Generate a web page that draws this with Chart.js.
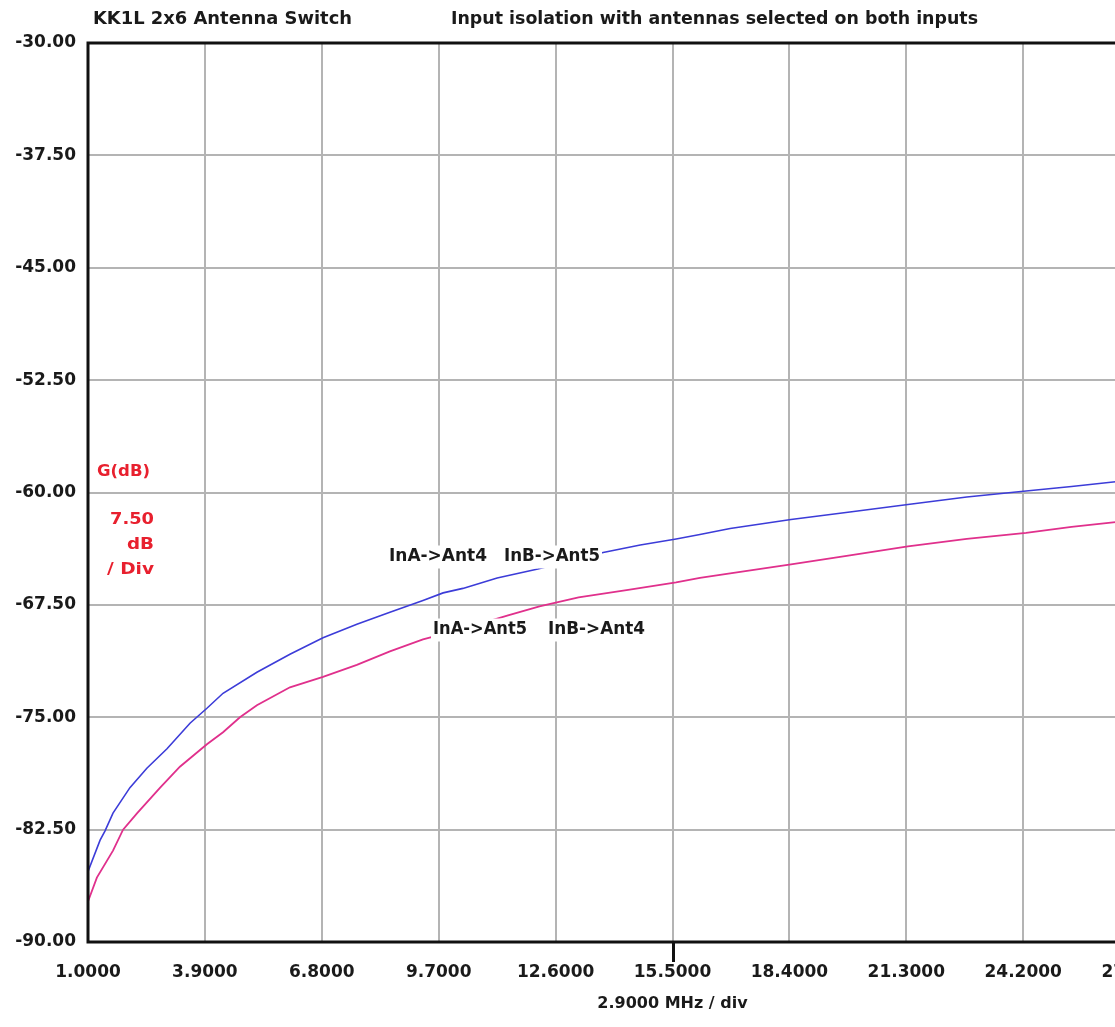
<!DOCTYPE html>
<html>
<head>
<meta charset="utf-8">
<script src="https://cdn.jsdelivr.net/npm/chart.js@4/dist/chart.umd.min.js"></script>
<style>
  html,body{margin:0;padding:0;background:#fff;overflow:hidden;}
  #wrap{width:1320px;height:1027px;}
</style>
</head>
<body>
<div id="wrap"><canvas id="iso" width="1320" height="1027"></canvas></div>
<script>
/* KK1L 2x6 switch - input isolation sweep */
var xTicks = [1.0, 3.9, 6.8, 9.7, 12.6, 15.5, 18.4, 21.3, 24.2, 27.1, 30.0];
var yTicks = [-90, -82.5, -75, -67.5, -60, -52.5, -45, -37.5, -30];

// InA->Ant4 / InB->Ant5 (blue)
var freqA4 = [1.0, 1.3, 1.42, 1.62, 2.04, 2.46, 2.96, 3.53, 3.95, 4.35, 5.19, 6.01, 6.83, 7.67, 8.49, 9.31, 9.81,
              10.3, 11.15, 12.16, 12.9, 13.78, 14.7, 15.59, 16.18, 16.93, 18.44, 19.9, 21.34, 22.8, 24.27, 25.4, 26.43, 27.6];
var dbA4   = [-85.3, -83.2, -82.6, -81.4, -79.7, -78.4, -77.1, -75.4, -74.4, -73.4, -72.0, -70.8, -69.7, -68.8, -68.0, -67.2, -66.7,
              -66.4, -65.7, -65.1, -64.6, -64.0, -63.5, -63.1, -62.8, -62.4, -61.8, -61.3, -60.8, -60.3, -59.9, -59.6, -59.3, -59.0];

// InA->Ant5 / InB->Ant4 (magenta)
var freqA5 = [1.0, 1.22, 1.62, 1.87, 2.22, 2.79, 3.28, 3.95, 4.35, 4.77, 5.19, 6.01, 6.83, 7.67, 8.49, 9.31,
              10.3, 11.42, 12.2, 13.17, 14.4, 15.59, 16.18, 16.93, 18.44, 19.9, 21.34, 22.8, 24.27, 25.4, 26.43, 27.6];
var dbA5   = [-87.3, -85.7, -83.9, -82.5, -81.4, -79.7, -78.3, -76.8, -76.0, -75.0, -74.2, -73.0, -72.3, -71.5, -70.6, -69.8,
              -69.1, -68.2, -67.6, -67.0, -66.5, -66.0, -65.7, -65.4, -64.8, -64.2, -63.6, -63.1, -62.7, -62.3, -62.0, -61.7];

(function () {
  'use strict';

  var FONT = "'DejaVu Sans', 'Liberation Sans', sans-serif";
  var INK = '#1a1a1a', RED = '#e8202e';

  function pts(xs, ys){ return xs.map(function(x,i){ return {x:x, y:ys[i]}; }); }

  // draw text squeezed/stretched to a given width
  function fitText(ctx, t, x, y, w, size, col, box){
    ctx.save();
    ctx.font = 'bold ' + size + 'px ' + FONT;
    ctx.textBaseline = 'middle'; ctx.textAlign = 'left';
    var m = ctx.measureText(t).width, sx = w / m;
    if (box) { ctx.fillStyle = '#fff'; ctx.fillRect(x - 2, y - size/2 - 3, w + 4, size + 6); }
    ctx.translate(x, y); ctx.scale(sx, 1);
    ctx.fillStyle = col; ctx.fillText(t, 0, 0);
    ctx.restore();
  }

  var decor = {
    id: 'decor',
    afterDatasetsDraw: function (c) {
      var ctx = c.ctx, a = c.chartArea, xs = c.scales.x;
      // curve labels, white boxes hide the trace behind them
      fitText(ctx, 'InA->Ant4', 389, 557, 98, 17, INK, true);
      fitText(ctx, 'InB->Ant5', 504, 557, 96, 17, INK, true);
      fitText(ctx, 'InA->Ant5', 433, 630, 94, 17, INK, true);
      fitText(ctx, 'InB->Ant4', 548, 630, 97, 17, INK, true);
      // frame
      ctx.save();
      ctx.strokeStyle = '#111'; ctx.lineWidth = 3;
      ctx.strokeRect(a.left, a.top, a.right - a.left, a.bottom - a.top);
      var cx = Math.round(xs.getPixelForValue(15.5)) + 0.5;
      ctx.beginPath(); ctx.moveTo(cx, a.bottom); ctx.lineTo(cx, a.bottom + 20); ctx.stroke();
      ctx.restore();
    },
    afterDraw: function (c) {
      var ctx = c.ctx;
      fitText(ctx, 'KK1L 2x6 Antenna Switch', 93, 19, 259, 18, INK);
      fitText(ctx, 'Input isolation with antennas selected on both inputs', 451, 19, 527, 18, INK);
      fitText(ctx, 'G(dB)', 97, 472, 53, 16, RED);
      fitText(ctx, '7.50', 110, 520, 44, 16, RED);
      fitText(ctx, 'dB', 127, 545, 27, 16, RED);
      fitText(ctx, '/ Div', 107, 570, 47, 16, RED);
    }
  };

  var tickFont = { family: FONT, weight: 'bold', size: 17 };

  new Chart(document.getElementById('iso'), {
    type: 'line',
    data: {
      datasets: [
        { label: 'InA->Ant4 InB->Ant5', data: pts(freqA4, dbA4), borderColor: '#3c3cd8', borderWidth: 1.6,
          pointRadius: 0, tension: 0, fill: false },
        { label: 'InA->Ant5 InB->Ant4', data: pts(freqA5, dbA5), borderColor: '#e0308c', borderWidth: 1.8,
          pointRadius: 0, tension: 0, fill: false }
      ]
    },
    options: {
      responsive: false, animation: false, devicePixelRatio: 1,
      layout: { padding: { top: 43, right: 63, left: 0, bottom: 0 } },
      plugins: { legend: { display: false }, tooltip: { enabled: false } },
      scales: {
        x: {
          type: 'linear', min: 1, max: 30,
          afterBuildTicks: function (s) { s.ticks = xTicks.map(function(v){ return {value:v}; }); },
          afterFit: function (s) { s.height = 85; },
          ticks: { callback: function (v) { return Number(v).toFixed(4); }, font: tickFont, color: INK,
                   padding: 20, maxRotation: 0, autoSkip: false },
          grid: { color: '#b4b4b4', lineWidth: 2, drawTicks: false },
          border: { display: false },
          title: { display: true, text: '2.9000 MHz / div', color: INK,
                   font: { family: FONT, weight: 'bold', size: 16 }, padding: { top: 0, bottom: 14 } }
        },
        y: {
          type: 'linear', min: -90, max: -30,
          afterBuildTicks: function (s) { s.ticks = yTicks.map(function(v){ return {value:v}; }); },
          afterFit: function (s) { s.width = 88; },
          ticks: { callback: function (v) { return Number(v).toFixed(2); }, font: tickFont, color: INK,
                   padding: 12, autoSkip: false },
          grid: { color: '#b4b4b4', lineWidth: 2, drawTicks: false },
          border: { display: false }
        }
      }
    },
    plugins: [decor]
  });
})();
</script>
</body>
</html>
